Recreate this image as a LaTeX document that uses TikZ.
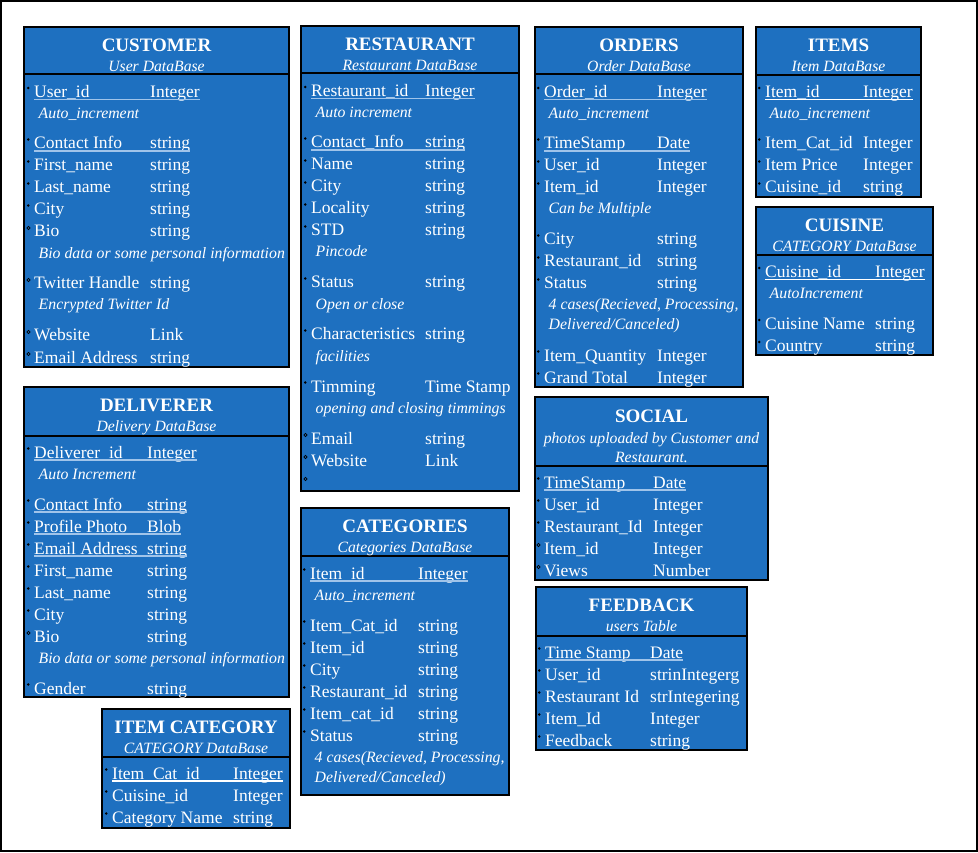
\documentclass[tikz,border=0pt]{standalone}
\usepackage{fontspec}
\setmainfont{Liberation Serif}
\definecolor{tblfill}{RGB}{30,112,192}
\definecolor{ulblue}{RGB}{160,196,234}
\tikzset{
  tbl/.style={fill=tblfill, draw=black, line width=2pt},
  sepline/.style={draw=black, line width=2pt},
  ttl/.style={text=white, font=\fontsize{19}{22}\selectfont\bfseries, inner sep=0pt, anchor=base},
  subttl/.style={text=white, font=\fontsize{15.7}{19}\selectfont\itshape, inner sep=0pt, anchor=base},
  fname/.style={text=white, font=\fontsize{17.5}{20}\selectfont, inner sep=0pt, anchor=base west},
  notetxt/.style={text=white, font=\fontsize{15.8}{19}\selectfont\itshape, inner sep=0pt, anchor=base west},
  ulb/.style={draw=ulblue, line width=1.3pt},
  ulw/.style={draw=white, line width=1.2pt},
  dotopen/.style={draw=black, line width=0.7pt},
}
\newcount\rc
\newcommand\bul[2]{\if f#1\fill[black] (\nx-5.7,#2-9.5) circle (1.4pt);\else\draw[dotopen] (\nx-5.5,#2-9) circle (1.7pt);\fi}
\newcommand\fld[4]{\global\advance\rc by 1
  \node[fname] (n\the\rc) at (\nx,#2) {#3};
  \node[fname] (t\the\rc) at (\tx,#2) {#4};
  \bul{#1}{#2}}
\newcommand\ufld[5][ulb]{\fld{#2}{#3}{#4}{#5}
  \draw[#1] ([yshift=-2pt]n\the\rc.base west) -- ([yshift=-2pt]t\the\rc.base east);}
\newcommand\nt[2]{\global\advance\rc by 1
  \node[notetxt] (m\the\rc) at (\nx+4.5,#1) {#2};}
\newcommand\tb[8]{%
  \draw[tbl] (#2,#3) rectangle (#4,#6);
  \draw[sepline] (#2,#5) -- (#4,#5);
  \node[ttl] (#1-t) at ({(#2+#4)/2},#3+24.5) {#7};
  \node[subttl] (#1-s) at ({(#2+#4)/2},#3+44.5) {#8};}
\begin{document}
\begin{tikzpicture}[x=1pt,y=-1pt]
\useasboundingbox (0,0) rectangle (978,853);
\fill[white] (0,0) rectangle (978,853);
\draw[line width=2pt] (1,1) rectangle (977,851);

% CUSTOMER
\tb{cust}{24}{27}{289}{74}{367}{CUSTOMER}{User DataBase}
\def\nx{34}\def\tx{150}
\ufld{f}{97.5}{User\_id}{Integer}
\nt{119}{Auto\_increment}
\ufld{f}{149}{Contact Info}{string}
\fld{f}{171}{First\_name}{string}
\fld{f}{193}{Last\_name}{string}
\fld{f}{215}{City}{string}
\fld{o}{237}{Bio}{string}
\nt{259}{Bio data or some personal information}
\fld{o}{289}{Twitter Handle}{string}
\nt{310}{Encrypted Twitter Id}
\fld{o}{341}{Website}{Link}
\fld{o}{363}{Email Address}{string}

% RESTAURANT
\tb{rest}{301}{26}{519}{73}{491}{RESTAURANT}{Restaurant DataBase}
\def\nx{311}\def\tx{425}
\ufld{f}{96.5}{Restaurant\_id}{Integer}
\nt{117.5}{Auto increment}
\ufld{f}{148}{Contact\_Info}{string}
\fld{f}{170}{Name}{string}
\fld{f}{192}{City}{string}
\fld{f}{214}{Locality}{string}
\fld{f}{236}{STD}{string}
\nt{257}{Pincode}
\fld{f}{288}{Status}{string}
\nt{309}{Open or close}
\fld{f}{340}{Characteristics}{string}
\nt{361}{facilities}
\fld{f}{392}{Timming}{Time Stamp}
\nt{413}{opening and closing timmings}
\fld{o}{444}{Email}{string}
\fld{o}{466}{Website}{Link}
\bul{o}{488}

% ORDERS
\tb{ord}{535}{27}{743}{74}{387}{ORDERS}{Order DataBase}
\def\nx{544}\def\tx{657}
\ufld{f}{97.5}{Order\_id}{Integer}
\nt{118.5}{Auto\_increment}
\ufld{f}{149}{TimeStamp}{Date}
\fld{f}{171}{User\_id}{Integer}
\fld{f}{193}{Item\_id}{Integer}
\nt{214}{Can be Multiple}
\fld{f}{245}{City}{string}
\fld{f}{267}{Restaurant\_id}{string}
\fld{f}{289}{Status}{string}
\nt{310}{4 cases(Recieved, Processing,}
\nt{330}{Delivered/Canceled)}
\fld{f}{361}{Item\_Quantity}{Integer}
\fld{f}{383}{Grand Total}{Integer}

% ITEMS
\tb{item}{756}{27}{921}{75}{197}{ITEMS}{Item DataBase}
\def\nx{765}\def\tx{863}
\ufld[ulw]{f}{97.5}{Item\_id}{Integer}
\nt{118.5}{Auto\_increment}
\fld{f}{149}{Item\_Cat\_id}{Integer}
\fld{f}{171}{Item Price}{Integer}
\fld{f}{193}{Cuisine\_id}{string}

% CUISINE
\tb{cuis}{756}{207}{933}{255}{355}{CUISINE}{CATEGORY DataBase}
\def\nx{765}\def\tx{875}
\ufld[ulw]{f}{277.5}{Cuisine\_id}{Integer}
\nt{298.5}{AutoIncrement}
\fld{f}{329.5}{Cuisine Name}{string}
\fld{f}{351.5}{Country}{string}

% SOCIAL
\draw[tbl] (535,397) rectangle (768,580);
\draw[sepline] (535,466) -- (768,466);
\node[ttl] (soc-t) at (651.5,422) {SOCIAL};
\node[subttl] (soc-s1) at (651.5,443) {photos uploaded by Customer and};
\node[subttl] (soc-s2) at (651.5,462) {Restaurant.};
\def\nx{544}\def\tx{653}
\ufld{f}{488}{TimeStamp}{Date}
\fld{f}{510}{User\_id}{Integer}
\fld{f}{532}{Restaurant\_Id}{Integer}
\fld{o}{554}{Item\_id}{Integer}
\fld{o}{576}{Views}{Number}

% FEEDBACK
\tb{feed}{536}{587}{747}{636}{750}{FEEDBACK}{users Table}
\def\nx{545}\def\tx{650}
\ufld{f}{658}{Time Stamp}{Date}
\fld{f}{680}{User\_id}{strinIntegerg}
\fld{f}{702}{Restaurant Id}{strIntegering}
\fld{f}{724}{Item\_Id}{Integer}
\fld{f}{746}{Feedback}{string}

% DELIVERER
\tb{deliv}{24}{387}{289}{436}{697}{DELIVERER}{Delivery DataBase}
\def\nx{34}\def\tx{147}
\ufld{f}{458}{Deliverer\_id}{Integer}
\nt{479}{Auto Increment}
\ufld{f}{510}{Contact Info}{string}
\ufld{f}{532}{Profile Photo}{Blob}
\ufld{f}{554}{Email Address}{string}
\fld{f}{576}{First\_name}{string}
\fld{f}{598}{Last\_name}{string}
\fld{f}{620}{City}{string}
\fld{o}{642}{Bio}{string}
\nt{663}{Bio data or some personal information}
\fld{f}{694}{Gender}{string}

% ITEM CATEGORY
\tb{icat}{102}{709}{290}{757}{828}{ITEM CATEGORY}{CATEGORY DataBase}
\def\nx{112}\def\tx{233}
\ufld[ulw]{f}{779}{Item\_Cat\_id}{Integer}
\fld{f}{801}{Cuisine\_id}{Integer}
\fld{f}{823}{Category Name}{string}

% CATEGORIES
\tb{cats}{301}{508}{509}{556}{795}{CATEGORIES}{Categories DataBase}
\def\nx{310}\def\tx{418}
\ufld{f}{579}{Item\_id}{Integer}
\nt{600}{Auto\_increment}
\fld{f}{631}{Item\_Cat\_id}{string}
\fld{f}{653}{Item\_id}{string}
\fld{f}{675}{City}{string}
\fld{f}{697}{Restaurant\_id}{string}
\fld{f}{719}{Item\_cat\_id}{string}
\fld{f}{741}{Status}{string}
\nt{762}{4 cases(Recieved, Processing,}
\nt{782}{Delivered/Canceled)}
\end{tikzpicture}
\end{document}
